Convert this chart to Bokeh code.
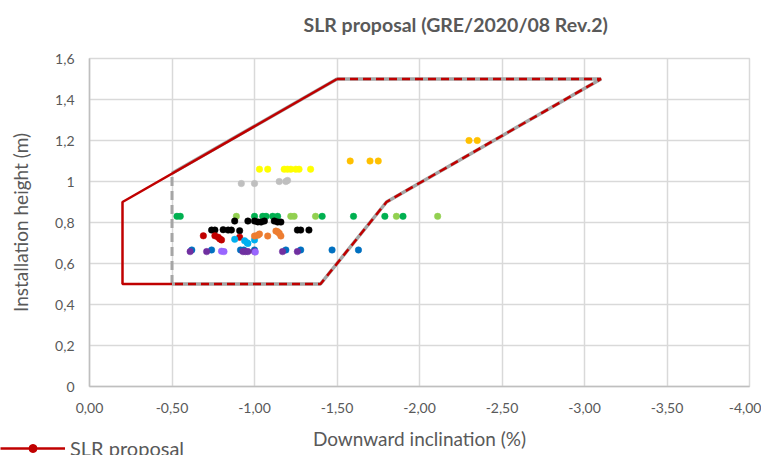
from bokeh.plotting import figure
from bokeh.layouts import column
from bokeh.models import Range1d, FixedTicker, CustomJSTickFormatter, Legend, LegendItem, Title
from bokeh.embed import file_html
from bokeh.resources import INLINE

# ---------------- data ----------------
x_ticks = [0, -0.5, -1.0, -1.5, -2.0, -2.5, -3.0, -3.5, -4.0]
y_ticks = [0, 0.2, 0.4, 0.6, 0.8, 1.0, 1.2, 1.4, 1.6]

# SLR proposal envelope (red): solid part and dashed part
slr_solid_x = [-0.5, -0.2, -0.2, -1.5]
slr_solid_y = [0.5, 0.5, 0.9, 1.5]
slr_dash_x = [-1.5, -3.1, -1.8, -1.4, -0.5]
slr_dash_y = [1.5, 1.5, 0.9, 0.5, 0.5]

# GRE/2020/08 Rev.2 envelope (grey)
gre_x = [-0.5, -1.5, -3.1, -1.8, -1.4, -0.5]
gre_y = [1.04, 1.5, 1.5, 0.9, 0.5, 0.5]
gre_dash_x = [-0.5, -0.5]
gre_dash_y = [0.5, 1.04]

# measured installations
yellow_x = [-1.03, -1.08, -1.18, -1.20, -1.22, -1.25, -1.27, -1.34]
yellow_y = [1.06, 1.06, 1.06, 1.06, 1.06, 1.06, 1.06, 1.06]
silver_x = [-0.92, -1.00, -1.15, -1.19, -1.20]
silver_y = [0.99, 0.99, 1.00, 1.00, 1.005]
lime_x = [-0.89, -1.22, -1.24, -1.37, -1.86, -2.11]
lime_y = [0.83, 0.83, 0.83, 0.83, 0.83, 0.83]
green_x = [-0.53, -0.55, -1.00, -1.05, -1.07, -1.11, -1.14, -1.41, -1.60, -1.79, -1.90]
green_y = [0.83, 0.83, 0.83, 0.83, 0.83, 0.83, 0.83, 0.83, 0.83, 0.83, 0.83]
black_x = [-0.88, -0.96, -1.00, -1.02, -1.04, -1.06, -1.12, -1.14, -1.16,
           -0.74, -0.76, -0.81, -0.84, -0.86, -0.91, -1.26, -1.28, -1.33]
black_y = [0.807, 0.807, 0.807, 0.803, 0.802, 0.807, 0.807, 0.802, 0.802,
           0.763, 0.763, 0.765, 0.763, 0.763, 0.760, 0.763, 0.763, 0.763]
darkred_x = [-0.69, -0.76, -0.78, -0.79, -0.80, -0.91]
darkred_y = [0.735, 0.735, 0.728, 0.720, 0.715, 0.728]
cyan_x = [-0.88, -0.94, -0.955, -0.96, -1.00]
cyan_y = [0.718, 0.711, 0.701, 0.698, 0.715]
orange_x = [-1.00, -1.02, -1.03, -1.08, -1.13, -1.14, -1.15, -1.16]
orange_y = [0.734, 0.738, 0.744, 0.734, 0.758, 0.755, 0.747, 0.734]
blue_x = [-0.62, -0.74, -0.915, -0.935, -1.00, -1.19, -1.28, -1.47, -1.63]
blue_y = [0.666, 0.666, 0.666, 0.666, 0.666, 0.666, 0.666, 0.666, 0.666]
purple_x = [-0.61, -0.71, -0.93, -0.945, -0.96, -1.00, -1.17, -1.26]
purple_y = [0.658, 0.658, 0.658, 0.658, 0.658, 0.658, 0.658, 0.658]
lavender_x = [-0.80, -0.815, -1.005]
lavender_y = [0.660, 0.658, 0.656]
gold_x = [-1.58, -1.70, -1.75, -2.30, -2.35]
gold_y = [1.10, 1.10, 1.10, 1.20, 1.20]

# ---------------- styling ----------------
RED = "#c00000"
GREY = "#a5a5a5"
TXT = "#595959"
FONT = "Lato"

p = figure(width=761, height=455, output_backend="svg", toolbar_location=None,
           x_range=Range1d(0, -4), y_range=Range1d(0, 1.6),
           min_border_left=89, min_border_right=12, min_border_top=58, min_border_bottom=69)

p.title.text = "SLR proposal (GRE/2020/08 Rev.2)"
p.title.align = "left"
p.title.offset = 214
p.title.standoff = 0
p.title.text_font = FONT
p.title.text_font_size = "19.5px"
p.title.text_font_style = "bold"
p.title.text_color = TXT
# empty spacer between the title and the plot area
p.add_layout(Title(text=" ", text_font_size="10px", standoff=10), "above")

p.outline_line_color = "#d9d9d9"
p.outline_line_width = 1.5
p.background_fill_color = "white"
p.border_fill_color = "white"

p.xaxis.ticker = FixedTicker(ticks=x_ticks)
p.yaxis.ticker = FixedTicker(ticks=y_ticks)
p.xaxis.formatter = CustomJSTickFormatter(code="return tick.toFixed(2).replace('.', ',');")
p.yaxis.formatter = CustomJSTickFormatter(
    code="return (Math.round(tick*10)/10).toString().replace('.', ',');")

for ax in (p.xaxis, p.yaxis):
    ax.major_tick_line_color = None
    ax.minor_tick_line_color = None
    ax.axis_line_color = "#bfbfbf"
    ax.axis_line_width = 1.5
    ax.major_label_text_font = FONT
    ax.major_label_text_font_size = "14px"
    ax.major_label_text_color = TXT
    ax.axis_label_text_font = FONT
    ax.axis_label_text_font_size = "19px"
    ax.axis_label_text_font_style = "normal"
    ax.axis_label_text_color = TXT

p.xaxis.axis_label = "Downward inclination (%)"
p.yaxis.axis_label = "Installation height (m)"
p.xaxis.major_label_standoff = 10
p.xaxis.axis_label_standoff = 11
p.yaxis.major_label_standoff = 9
p.yaxis.axis_label_standoff = 20

p.xgrid.grid_line_color = "#d9d9d9"
p.ygrid.grid_line_color = "#d9d9d9"
p.xgrid.grid_line_width = 1.5
p.ygrid.grid_line_width = 1.5

# envelopes
p.line(gre_x, gre_y, line_color=GREY, line_width=3.5)
p.line(gre_dash_x, gre_dash_y, line_color=GREY, line_width=3, line_dash="9 5")
p.line(slr_solid_x, slr_solid_y, line_color=RED, line_width=2.5)
p.line(slr_dash_x, slr_dash_y, line_color=RED, line_width=2.5, line_dash="8 5")

# points
series = [
    (yellow_x, yellow_y, "#ffff00"),
    (silver_x, silver_y, "#bfbfbf"),
    (lime_x, lime_y, "#92d050"),
    (green_x, green_y, "#00b050"),
    (black_x, black_y, "#000000"),
    (darkred_x, darkred_y, "#c00000"),
    (cyan_x, cyan_y, "#00b0f0"),
    (orange_x, orange_y, "#ed7d31"),
    (blue_x, blue_y, "#0070c0"),
    (purple_x, purple_y, "#7030a0"),
    (lavender_x, lavender_y, "#9966ff"),
    (gold_x, gold_y, "#ffc000"),
]
for xs, ys, c in series:
    p.scatter(xs, ys, size=6.5, fill_color=c, line_color=c, line_width=0.5)

# legend strip: transparent strip overlapping the bottom edge of the chart, cut off as in the reference
LF_H = 19
lf = figure(width=761, height=LF_H, output_backend="svg", toolbar_location=None,
            title=None, x_axis_location=None, y_axis_location=None,
            x_range=Range1d(10, 11), y_range=Range1d(10, 11),
            min_border_left=0, min_border_right=0, min_border_top=0, min_border_bottom=0)
lf.grid.visible = False
lf.outline_line_color = None
lf.background_fill_color = None
lf.border_fill_color = None
# its plot area is aligned with the chart's (starting 89px in), so shift the strip left by that
lf.margin = (-LF_H, 0, 0, -89)
# renderers only used for the legend glyph (their data lies outside this strip's view)
leg_line = lf.line(slr_solid_x, slr_solid_y, line_color=RED, line_width=2.5)
leg_dot = lf.scatter(slr_solid_x, slr_solid_y, size=11, fill_color=RED, line_color=RED)
legend = Legend(items=[LegendItem(label="SLR proposal", renderers=[leg_line, leg_dot])],
                location="top_left", orientation="horizontal",
                glyph_width=65, glyph_height=20, label_height=20, label_standoff=5,
                label_text_font=FONT, label_text_font_size="20px", label_text_color=TXT,
                padding=0, margin=0, border_line_color=None, background_fill_alpha=0)
lf.add_layout(legend, "center")

layout = column(p, lf)
open("out.html", "w").write(file_html(layout, INLINE))
